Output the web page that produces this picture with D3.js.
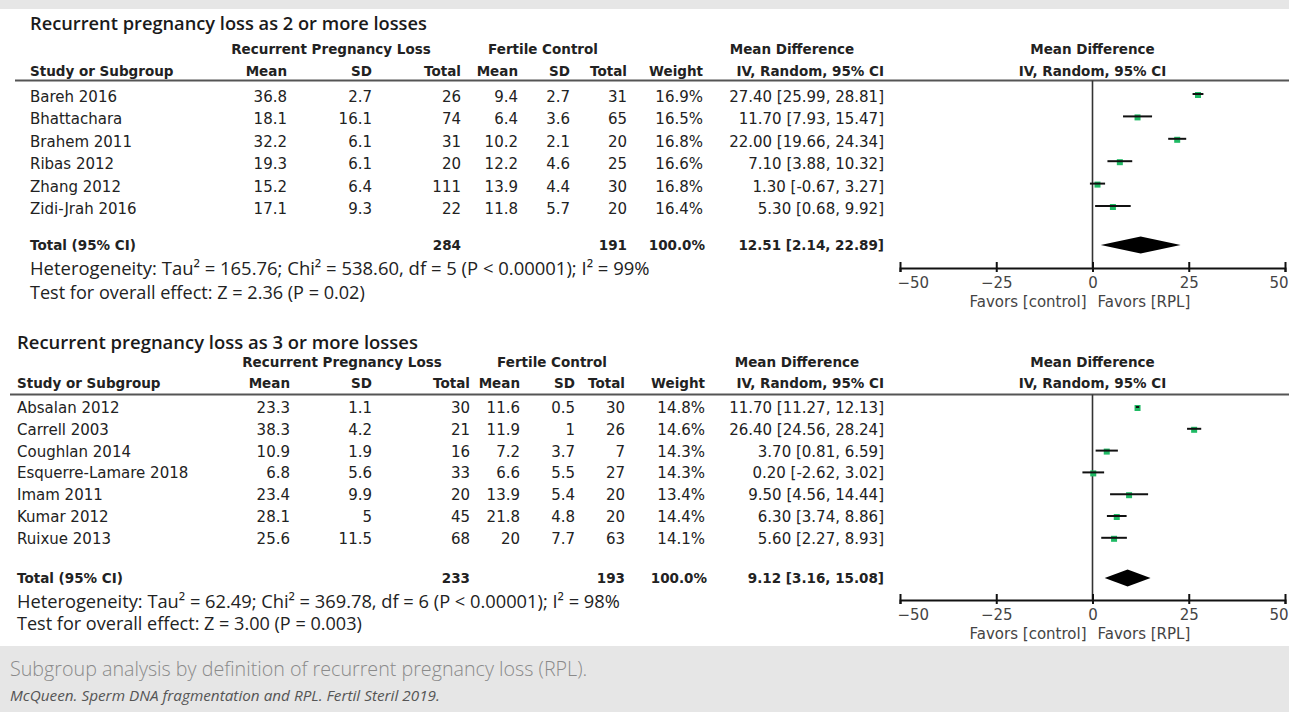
<!DOCTYPE html>
<html>
<head>
<meta charset="utf-8">
<script src="https://cdn.jsdelivr.net/npm/d3@7"></script>
<style>
  html, body { margin: 0; padding: 0; background: #fff; }
  svg { display: block; }
</style>
</head>
<body>
<svg id="chart" width="1289" height="712"></svg>
<script>
/* Two RevMan-style forest plots (RPL as >=2 losses, RPL as >=3 losses)
 * drawn with D3: table columns as text, CI whiskers, weight squares,
 * pooled diamond and a bottom axis per subgroup.
 */
(function () {
  "use strict";

  // ---- subgroup 1: RPL as 2 or more losses ----
  var studiesA = ["Bareh 2016", "Bhattachara", "Brahem 2011", "Ribas 2012", "Zhang 2012", "Zidi-Jrah 2016"];
  var rplMeanA = [36.8, 18.1, 32.2, 19.3, 15.2, 17.1];
  var rplSdA = [2.7, 16.1, 6.1, 6.1, 6.4, 9.3];
  var rplNA = [26, 74, 31, 20, 111, 22];
  var ctlMeanA = [9.4, 6.4, 10.2, 12.2, 13.9, 11.8];
  var ctlSdA = [2.7, 3.6, 2.1, 4.6, 4.4, 5.7];
  var ctlNA = [31, 65, 20, 25, 30, 20];
  var weightA = [16.9, 16.5, 16.8, 16.6, 16.8, 16.4];
  var mdA = [27.40, 11.70, 22.00, 7.10, 1.30, 5.30];
  var loA = [25.99, 7.93, 19.66, 3.88, -0.67, 0.68];
  var hiA = [28.81, 15.47, 24.34, 10.32, 3.27, 9.92];
  var totalA = [284, 191, 100.0, 12.51, 2.14, 22.89]; // rplN, ctlN, weight, md, lo, hi
  var hetA = "Heterogeneity: Tau\u00b2 = 165.76; Chi\u00b2 = 538.60, df = 5 (P < 0.00001); I\u00b2 = 99%";
  var testA = "Test for overall effect: Z = 2.36 (P = 0.02)";

  // ---- subgroup 2: RPL as 3 or more losses ----
  var studiesB = ["Absalan 2012", "Carrell 2003", "Coughlan 2014", "Esquerre-Lamare 2018", "Imam 2011", "Kumar 2012", "Ruixue 2013"];
  var rplMeanB = [23.3, 38.3, 10.9, 6.8, 23.4, 28.1, 25.6];
  var rplSdB = [1.1, 4.2, 1.9, 5.6, 9.9, 5, 11.5];
  var rplNB = [30, 21, 16, 33, 20, 45, 68];
  var ctlMeanB = [11.6, 11.9, 7.2, 6.6, 13.9, 21.8, 20];
  var ctlSdB = [0.5, 1, 3.7, 5.5, 5.4, 4.8, 7.7];
  var ctlNB = [30, 26, 7, 27, 20, 20, 63];
  var weightB = [14.8, 14.6, 14.3, 14.3, 13.4, 14.4, 14.1];
  var mdB = [11.70, 26.40, 3.70, 0.20, 9.50, 6.30, 5.60];
  var loB = [11.27, 24.56, 0.81, -2.62, 4.56, 3.74, 2.27];
  var hiB = [12.13, 28.24, 6.59, 3.02, 14.44, 8.86, 8.93];
  var totalB = [233, 193, 100.0, 9.12, 3.16, 15.08];
  var hetB = "Heterogeneity: Tau\u00b2 = 62.49; Chi\u00b2 = 369.78, df = 6 (P < 0.00001); I\u00b2 = 98%";
  var testB = "Test for overall effect: Z = 3.00 (P = 0.003)";

  var axisTicks = [-50, -25, 0, 25, 50];
  var caption = "Subgroup analysis by definition of recurrent pregnancy loss (RPL).";
  var citation = "McQueen. Sperm DNA fragmentation and RPL. Fertil Steril 2019.";

  var locale = d3.formatLocale({ decimal: ".", thousands: ",", grouping: [3], currency: ["", ""], minus: "-" });
  var f2 = locale.format(".2f");
  var f1 = locale.format(".1f");

  function rows(studies, m1, s1, n1, m2, s2, n2, w, md, lo, hi) {
    return studies.map(function (name, i) {
      return { name: name, m1: m1[i], s1: s1[i], n1: n1[i], m2: m2[i], s2: s2[i], n2: n2[i],
               w: w[i], md: md[i], lo: lo[i], hi: hi[i] };
    });
  }

  var panels = [
    {
      title: "Recurrent pregnancy loss as 2 or more losses",
      rows: rows(studiesA, rplMeanA, rplSdA, rplNA, ctlMeanA, ctlSdA, ctlNA, weightA, mdA, loA, hiA),
      total: totalA, het: hetA, test: testA,
      left: 30, lineX: 15, titleW: 397, hetW: 620, testW: 335,
      titleY: 30, h1Y: 54, h2Y: 76, lineY: 80.5, rowY: 102, rowStep: 22.4, pointDy: -8,
      totalY: 250, hetY: 275, testY: 299, axisY: 268,
      cols: { m1: 287, s1: 372, n1: 461, m2: 518, s2: 570, n2: 627, w: 703, ci: 884 },
      groups: { rpl: 331, ctl: 543, md: 792 }
    },
    {
      title: "Recurrent pregnancy loss as 3 or more losses",
      rows: rows(studiesB, rplMeanB, rplSdB, rplNB, ctlMeanB, ctlSdB, ctlNB, weightB, mdB, loB, hiB),
      total: totalB, het: hetB, test: testB,
      left: 17, lineX: 10, titleW: 401, hetW: 603, testW: 345,
      titleY: 349, h1Y: 367, h2Y: 388, lineY: 394.5, rowY: 413, rowStep: 21.8, pointDy: -6,
      totalY: 583, hetY: 608, testY: 630, axisY: 600,
      cols: { m1: 290, s1: 372, n1: 470, m2: 520, s2: 575, n2: 625, w: 705, ci: 884 },
      groups: { rpl: 342, ctl: 552, md: 797 }
    }
  ];

  var svg = d3.select("#chart");
  var W = 1289, H = 712;
  var x = d3.scaleLinear().domain([-50, 50]).range([900, 1285]);

  var TABLE_FONT = "'DejaVu Sans', Verdana, sans-serif";
  var PROSE_FONT = "'Open Sans', 'Noto Sans', sans-serif";

  // page background bands
  svg.append("rect").attr("x", 0).attr("y", 0).attr("width", W).attr("height", 9).attr("fill", "#e6e6e6");
  svg.append("rect").attr("x", 0).attr("y", 646).attr("width", W).attr("height", H - 646).attr("fill", "#e6e6e6");

  // scale a text node's font so it spans the measured width
  function fit(sel, width) {
    sel.each(function () {
      var fs = parseFloat(this.getAttribute("font-size"));
      var len = this.getComputedTextLength();
      if (len > 0) this.setAttribute("font-size", (fs * width / len).toFixed(2));
    });
  }

  panels.forEach(drawPanel);

  function drawPanel(p) {
    var g = svg.append("g");
    var c = p.cols;

    function txt(xp, yp, s, anchor, bold) {
      return g.append("text")
        .attr("x", xp).attr("y", yp)
        .attr("text-anchor", anchor || "end")
        .attr("font-family", TABLE_FONT)
        .attr("font-size", bold ? 13.5 : 15)
        .attr("font-weight", bold ? "bold" : "normal")
        .attr("fill", "#222")
        .text(s);
    }

    g.append("text")
      .attr("x", p.left).attr("y", p.titleY)
      .attr("font-family", PROSE_FONT).attr("font-size", 18).attr("font-weight", 600)
      .attr("fill", "#1a1a1a")
      .text(p.title)
      .call(fit, p.titleW);

    // group headers
    txt(p.groups.rpl, p.h1Y, "Recurrent Pregnancy Loss", "middle", true);
    txt(p.groups.ctl, p.h1Y, "Fertile Control", "middle", true);
    txt(p.groups.md, p.h1Y, "Mean Difference", "middle", true);
    txt(x(0), p.h1Y, "Mean Difference", "middle", true);

    // column headers
    txt(p.left, p.h2Y, "Study or Subgroup", "start", true);
    txt(c.m1, p.h2Y, "Mean", "end", true);
    txt(c.s1, p.h2Y, "SD", "end", true);
    txt(c.n1, p.h2Y, "Total", "end", true);
    txt(c.m2, p.h2Y, "Mean", "end", true);
    txt(c.s2, p.h2Y, "SD", "end", true);
    txt(c.n2, p.h2Y, "Total", "end", true);
    txt(c.w, p.h2Y, "Weight", "end", true);
    txt(c.ci, p.h2Y, "IV, Random, 95% CI", "end", true);
    txt(x(0), p.h2Y, "IV, Random, 95% CI", "middle", true);

    g.append("line")
      .attr("x1", p.lineX).attr("x2", W)
      .attr("y1", p.lineY).attr("y2", p.lineY)
      .attr("stroke", "#555").attr("stroke-width", 2.2);

    // study rows
    p.rows.forEach(function (r, i) {
      var y = p.rowY + i * p.rowStep;
      txt(p.left, y, r.name, "start");
      txt(c.m1, y, String(r.m1));
      txt(c.s1, y, String(r.s1));
      txt(c.n1, y, String(r.n1));
      txt(c.m2, y, String(r.m2));
      txt(c.s2, y, String(r.s2));
      txt(c.n2, y, String(r.n2));
      txt(c.w, y, f1(r.w) + "%");
      txt(c.ci, y, f2(r.md) + " [" + f2(r.lo) + ", " + f2(r.hi) + "]");
    });

    // totals
    var t = p.total;
    txt(p.left, p.totalY, "Total (95% CI)", "start", true);
    txt(c.n1, p.totalY, String(t[0]), "end", true);
    txt(c.n2, p.totalY, String(t[1]), "end", true);
    txt(c.w + 2, p.totalY, f1(t[2]) + "%", "end", true);
    txt(c.ci, p.totalY, f2(t[3]) + " [" + f2(t[4]) + ", " + f2(t[5]) + "]", "end", true);

    g.append("text").attr("x", p.left).attr("y", p.hetY)
      .attr("font-family", PROSE_FONT).attr("font-size", 15).attr("fill", "#222")
      .text(p.het).call(fit, p.hetW);
    g.append("text").attr("x", p.left).attr("y", p.testY)
      .attr("font-family", PROSE_FONT).attr("font-size", 15).attr("fill", "#222")
      .text(p.test).call(fit, p.testW);

    // ---- forest ----
    var fg = svg.append("g");

    fg.append("line")
      .attr("x1", x(0)).attr("x2", x(0))
      .attr("y1", p.lineY).attr("y2", p.axisY)
      .attr("stroke", "#333").attr("stroke-width", 1.6);

    var pts = fg.selectAll("g.study").data(p.rows).join("g").attr("class", "study")
      .attr("transform", function (d, i) {
        return "translate(0," + (p.rowY + i * p.rowStep + p.pointDy) + ")";
      });
    pts.append("rect")
      .attr("x", function (d) { return x(d.md) - 3; })
      .attr("y", -2)
      .attr("width", 6).attr("height", 6)
      .attr("fill", "#1fba64");
    pts.append("line")
      .attr("x1", function (d) { return x(d.lo); })
      .attr("x2", function (d) { return x(d.hi); })
      .attr("stroke", "#111").attr("stroke-width", 2);

    var dy = p.totalY - 5;
    var diamond = [[t[4], 0], [t[3], -8.5], [t[5], 0], [t[3], 8.5]];
    fg.append("path")
      .attr("d", d3.line()
        .x(function (d) { return x(d[0]); })
        .y(function (d) { return dy + d[1]; })(diamond) + "Z")
      .attr("fill", "#000");

    var axis = fg.append("g")
      .attr("transform", "translate(0," + p.axisY + ")")
      .call(d3.axisBottom(x).tickValues(axisTicks).tickSizeOuter(0).tickSize(4)
        .tickFormat(d3.format("d")));
    axis.select(".domain").attr("stroke", "#111").attr("stroke-width", 2);
    axis.selectAll(".tick line").attr("y1", -6).attr("y2", 4).attr("stroke", "#111").attr("stroke-width", 2);
    axis.selectAll(".tick text")
      .attr("y", 9).attr("dy", "0.71em")
      .attr("font-family", TABLE_FONT).attr("font-size", 15).attr("fill", "#444")
      .attr("text-anchor", function (d, i, nodes) {
        return i === 0 ? "start" : i === nodes.length - 1 ? "end" : "middle";
      })
      .attr("x", function (d, i, nodes) {
        return i === 0 ? -3 : i === nodes.length - 1 ? 3 : 0;
      });

    fg.append("text").attr("x", x(0) - 6).attr("y", p.axisY + 39)
      .attr("text-anchor", "end").attr("font-family", TABLE_FONT).attr("font-size", 15)
      .attr("fill", "#444").text("Favors [control]");
    fg.append("text").attr("x", x(0) + 5).attr("y", p.axisY + 39)
      .attr("text-anchor", "start").attr("font-family", TABLE_FONT).attr("font-size", 15)
      .attr("fill", "#444").text("Favors [RPL]");
  }

  svg.append("text").attr("x", 10).attr("y", 676)
    .attr("font-family", PROSE_FONT).attr("font-size", 19).attr("font-weight", 300)
    .attr("fill", "#8a8a8a").text(caption).call(fit, 578);
  svg.append("text").attr("x", 10).attr("y", 701)
    .attr("font-family", PROSE_FONT).attr("font-size", 13).attr("font-style", "italic")
    .attr("fill", "#555").text(citation).call(fit, 430);
})();
</script>
</body>
</html>
